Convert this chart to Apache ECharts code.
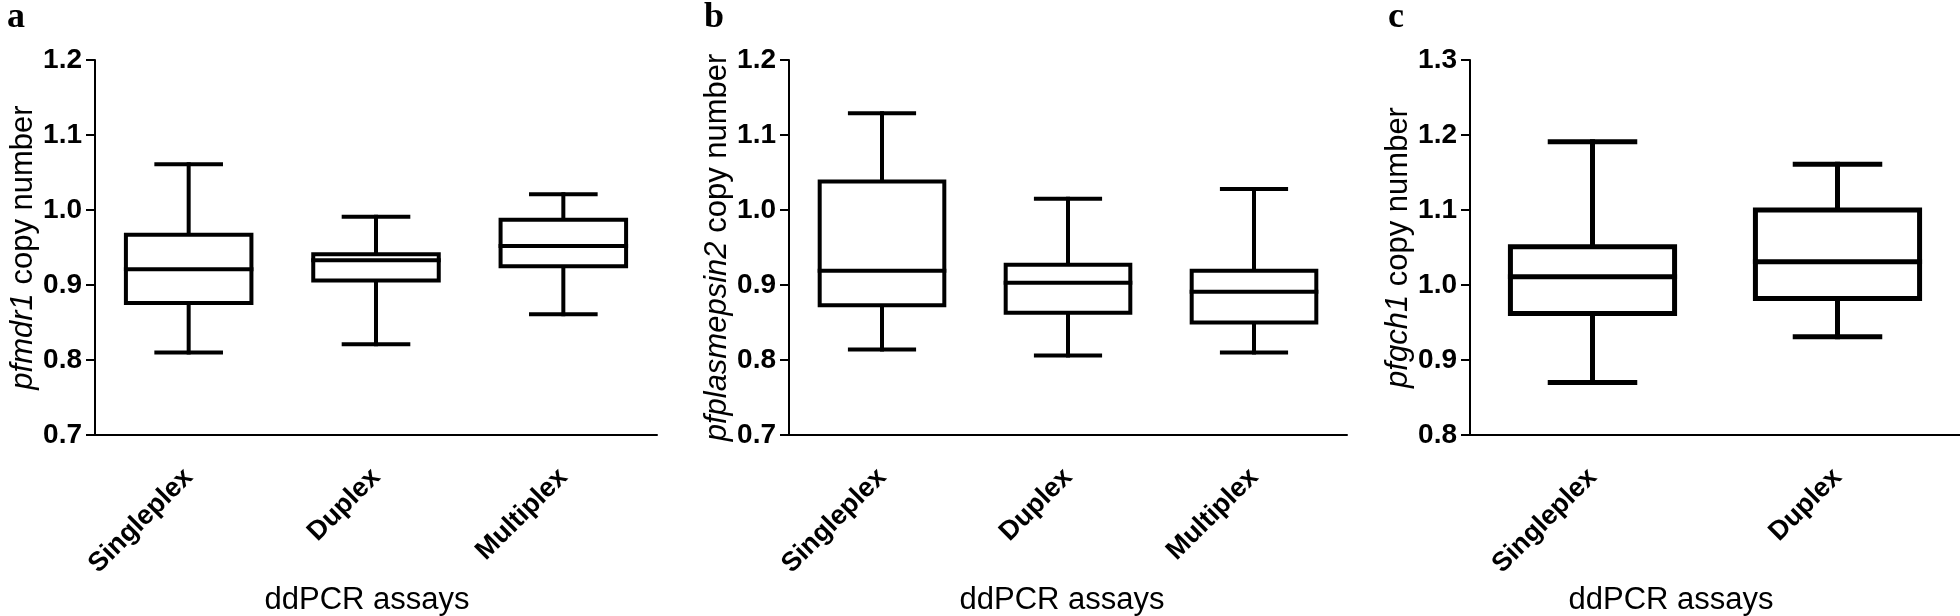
<!DOCTYPE html>
<html>
<head>
<meta charset="utf-8">
<title>ddPCR copy number</title>
<script src="https://cdn.jsdelivr.net/npm/echarts@6/dist/echarts.min.js"></script>
<style>
  html, body { margin: 0; padding: 0; background: #fff; }
  #main { width: 1960px; height: 616px; }
</style>
</head>
<body>
<div id="main"></div>
<script>
// categories per panel
var assaysAB = ['Singleplex', 'Duplex', 'Multiplex'];
var assaysC = ['Singleplex', 'Duplex'];

// five-number summaries: [min, Q1, median, Q3, max]
var pfmdr1Box = [
  [0.810, 0.876, 0.921, 0.967, 1.061],
  [0.821, 0.906, 0.933, 0.941, 0.991],
  [0.861, 0.925, 0.952, 0.987, 1.021]
];
var pfplasmepsin2Box = [
  [0.814, 0.873, 0.919, 1.038, 1.129],
  [0.806, 0.863, 0.903, 0.927, 1.015],
  [0.810, 0.850, 0.891, 0.919, 1.028]
];
var pfgch1Box = [
  [0.870, 0.962, 1.011, 1.051, 1.191],
  [0.931, 0.982, 1.031, 1.100, 1.161]
];

// y axis ranges
var yRangeAB = [0.7, 1.2];
var yRangeC = [0.8, 1.3];

var SANS = '"Liberation Sans", Arial, sans-serif';
var SERIF = '"Liberation Serif", "Times New Roman", serif';

function boxRenderer(lw) {
  return function (params, api) {
    var idx = api.value(0);
    var lo = api.coord([idx, api.value(1)]);
    var q1 = api.coord([idx, api.value(2)]);
    var md = api.coord([idx, api.value(3)]);
    var q3 = api.coord([idx, api.value(4)]);
    var hi = api.coord([idx, api.value(5)]);
    var band = api.size([1, 0])[0];
    var bh = band * 0.67 / 2;
    var ch = band * 0.345 / 2;
    var x = md[0];
    var st = { stroke: '#000', lineWidth: lw, fill: null, lineCap: 'square' };
    return {
      type: 'group',
      children: [
        { type: 'line', shape: { x1: x, y1: hi[1], x2: x, y2: q3[1] }, style: st },
        { type: 'line', shape: { x1: x, y1: q1[1], x2: x, y2: lo[1] }, style: st },
        { type: 'line', shape: { x1: x - ch, y1: hi[1], x2: x + ch, y2: hi[1] }, style: st },
        { type: 'line', shape: { x1: x - ch, y1: lo[1], x2: x + ch, y2: lo[1] }, style: st },
        { type: 'rect', shape: { x: x - bh, y: q3[1], width: bh * 2, height: q1[1] - q3[1] }, style: { stroke: '#000', lineWidth: lw, fill: '#fff' } },
        { type: 'line', shape: { x1: x - bh, y1: md[1], x2: x + bh, y2: md[1] }, style: st }
      ]
    };
  };
}

function toRows(stats) {
  return stats.map(function (s, i) { return [i].concat(s); });
}

function xAxisFor(idx, cats, shift) {
  return {
    type: 'category',
    gridIndex: idx,
    data: cats,
    boundaryGap: true,
    name: 'ddPCR assays',
    nameLocation: 'middle',
    nameGap: 146,
    nameTextStyle: { fontFamily: SANS, fontSize: 31, color: '#000', padding: [0, shift, 0, 0] },
    axisLine: { lineStyle: { color: '#000', width: 2 } },
    axisTick: { alignWithLabel: true, length: 12, lineStyle: { color: '#000', width: 2 } },
    axisLabel: { rotate: 45, margin: 38, fontFamily: SANS, fontWeight: 'bold', fontSize: 27, color: '#000' },
    splitLine: { show: false }
  };
}

function yAxisFor(idx, range, gene) {
  return {
    type: 'value',
    gridIndex: idx,
    min: range[0],
    max: range[1],
    interval: 0.1,
    name: '{i|' + gene + '} copy number',
    nameLocation: 'middle',
    nameGap: 56,
    nameTextStyle: {
      fontFamily: SANS, fontSize: 31, color: '#000',
      rich: { i: { fontFamily: SANS, fontSize: 31, fontStyle: 'italic', color: '#000' } }
    },
    axisLine: { show: true, lineStyle: { color: '#000', width: 2 } },
    axisTick: { show: true, length: 9, lineStyle: { color: '#000', width: 2 } },
    axisLabel: {
      margin: 13, fontFamily: SANS, fontWeight: 'bold', fontSize: 28, color: '#000',
      formatter: function (v) { return v.toFixed(1); }
    },
    splitLine: { show: false }
  };
}

var chart = echarts.init(document.getElementById('main'), null, { renderer: 'canvas' });

chart.setOption({
  animation: false,
  backgroundColor: '#fff',
  grid: [
    { left: 95, top: 60, width: 562, height: 375, outerBoundsMode: 'none' },
    { left: 789, top: 60, width: 558, height: 375, outerBoundsMode: 'none' },
    { left: 1470, top: 60, width: 490, height: 375, outerBoundsMode: 'none' }
  ],
  graphic: [
    { type: 'text', left: 7, top: 0, style: { text: 'a', font: 'bold 36px ' + SERIF, fill: '#000' } },
    { type: 'text', left: 704, top: 0, style: { text: 'b', font: 'bold 36px ' + SERIF, fill: '#000' } },
    { type: 'text', left: 1388, top: 0, style: { text: 'c', font: 'bold 36px ' + SERIF, fill: '#000' } }
  ],
  xAxis: [
    xAxisFor(0, assaysAB, 18),
    xAxisFor(1, assaysAB, 12),
    xAxisFor(2, assaysC, 88)
  ],
  yAxis: [
    yAxisFor(0, yRangeAB, 'pfmdr1'),
    yAxisFor(1, yRangeAB, 'pfplasmepsin2'),
    yAxisFor(2, yRangeC, 'pfgch1')
  ],
  series: [
    { type: 'custom', xAxisIndex: 0, yAxisIndex: 0, renderItem: boxRenderer(4), encode: { x: 0, y: [1, 5] }, data: toRows(pfmdr1Box) },
    { type: 'custom', xAxisIndex: 1, yAxisIndex: 1, renderItem: boxRenderer(4), encode: { x: 0, y: [1, 5] }, data: toRows(pfplasmepsin2Box) },
    { type: 'custom', xAxisIndex: 2, yAxisIndex: 2, renderItem: boxRenderer(5), encode: { x: 0, y: [1, 5] }, data: toRows(pfgch1Box) }
  ]
});
</script>
</body>
</html>
